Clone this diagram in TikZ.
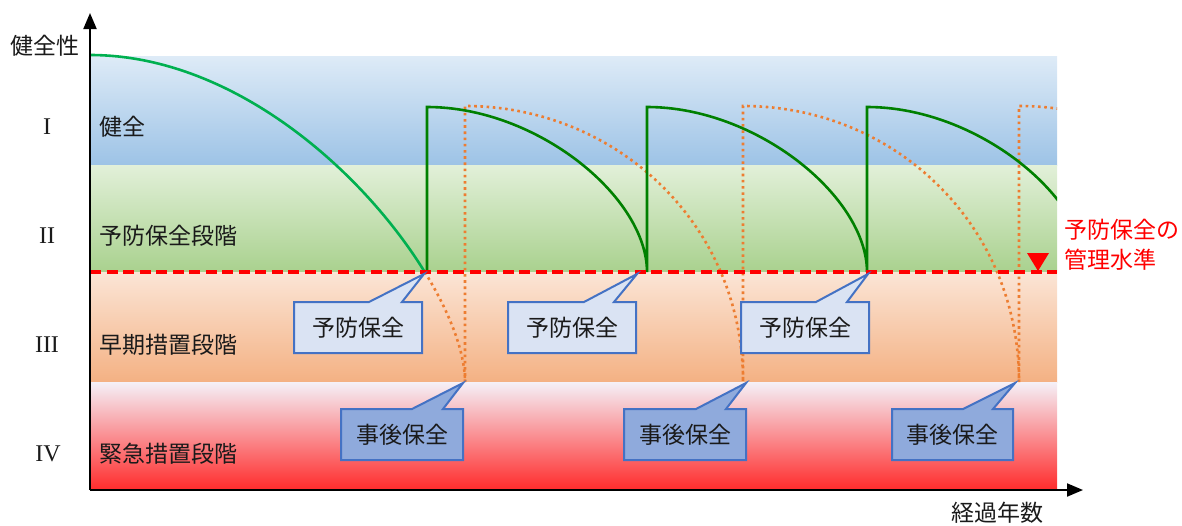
\documentclass[tikz,border=0pt]{standalone}
\usepackage{fontspec}
\setmainfont{Noto Sans CJK JP}
\newfontfamily\romfont{Liberation Serif}
\usetikzlibrary{arrows.meta}
\definecolor{blueT}{HTML}{DEEBF7}
\definecolor{blueB}{HTML}{9DC3E6}
\definecolor{greenT}{HTML}{E2F0D9}
\definecolor{greenB}{HTML}{A9D18E}
\definecolor{orT}{HTML}{FBE5D6}
\definecolor{orB}{HTML}{F4B183}
\definecolor{redT}{HTML}{F5F1F8}
\definecolor{redM}{HTML}{F6BEC6}
\definecolor{redB}{HTML}{FF2B2B}
\definecolor{ltgreen}{HTML}{00B050}
\definecolor{dkgreen}{HTML}{008000}
\definecolor{orline}{HTML}{ED7D31}
\definecolor{cobord}{HTML}{4472C4}
\definecolor{pbfill}{HTML}{DAE3F3}
\definecolor{jgfill}{HTML}{8FAADC}
\definecolor{txt}{HTML}{1A1A1A}
\begin{document}
\begin{tikzpicture}[x=1pt,y=-1pt,
  jpfont/.style={font=\fontsize{23}{28}\selectfont, text=txt, inner sep=0pt},
  romlbl/.style={font=\romfont\fontsize{24}{28}\selectfont, text=txt, inner sep=0pt},
  bandlbl/.style={jpfont, anchor=west},
  axisline/.style={line width=2pt, black, -{Triangle[length=16pt,width=13pt]}},
  lgcurve/.style={line width=2.6pt, ltgreen},
  dgcurve/.style={line width=2.6pt, dkgreen, line join=miter},
  ordot/.style={line width=2.6pt, orline, dash pattern=on 2.6pt off 3.6pt},
  reddash/.style={line width=3.5pt, red, dash pattern=on 11pt off 5.5pt},
  pbbox/.style={draw=cobord, fill=pbfill, line width=2pt, line join=miter},
  jgbox/.style={draw=cobord, fill=jgfill, line width=2pt, line join=miter}]
\useasboundingbox (0,0) rectangle (1182,525);
% bands
\shade[top color=blueT, bottom color=blueB] (90,56) rectangle (1057,165);
\shade[top color=greenT, bottom color=greenB] (90,165) rectangle (1057,272);
\shade[top color=orT, bottom color=orB] (90,272) rectangle (1057,382);
\shade[top color=redT, middle color=redM, bottom color=redB] (90,382) rectangle (1057,490);
% curves
\begin{scope}
  \clip (90,272) rectangle (1057,395);
  \draw[ordot] (90,55) .. controls (290,55) and (465,282) .. (465,382);
\end{scope}
\begin{scope}
  \clip (90,0) rectangle (1057,500);
  \draw[ordot] (465,382) -- (465,106) .. controls (615,106) and (743,223) .. (743,382)
     -- (743,106) .. controls (893,106) and (1019,223) .. (1019,382)
     -- (1019,106) .. controls (1169,106) and (1295,223) .. (1295,382);
  \draw[dgcurve] (427,272) -- (427,107) .. controls (537,107) and (647,197) .. (647,272)
     -- (647,107) .. controls (757,107) and (867,197) .. (867,272)
     -- (867,107) .. controls (977,107) and (1087,197) .. (1087,272);
\end{scope}
\begin{scope}
  \clip (80,0) rectangle (1057,272);
  \draw[lgcurve] (90,55) .. controls (290,55) and (465,282) .. (465,382);
\end{scope}
% management level
\coordinate (lvlL) at (90,272);
\coordinate (lvlR) at (1057,272);
\draw[reddash] (lvlL) -- (lvlR);
\fill[red] (1027,253) -- (1049,253) -- (1038,271) -- cycle;
\node[jpfont, text=red, anchor=west, align=left, font=\fontsize{23}{30}\selectfont] (lvl) at (1064,245) {予防保全の\\管理水準};
% callouts: preventive
\draw[pbbox] (294,302) -- (369,302) -- (424,274) -- (402,302) -- (422,302) -- (422,353) -- (294,353) -- cycle;
\node[jpfont] (pb1) at (358,327.5) {予防保全};
\draw[pbbox] (508,302) -- (584,302) -- (637,274) -- (614,302) -- (636,302) -- (636,353) -- (508,353) -- cycle;
\node[jpfont] (pb2) at (572,327.5) {予防保全};
\draw[pbbox] (741,302) -- (816,302) -- (868,274) -- (847,302) -- (869,302) -- (869,353) -- (741,353) -- cycle;
\node[jpfont] (pb3) at (805,327.5) {予防保全};
% callouts: corrective
\draw[jgbox] (341,409) -- (412,409) -- (463,383) -- (443,409) -- (463,409) -- (463,460) -- (341,460) -- cycle;
\node[jpfont] (jg1) at (402,435) {事後保全};
\draw[jgbox] (624,409) -- (696,409) -- (746,383) -- (726,409) -- (746,409) -- (746,460) -- (624,460) -- cycle;
\node[jpfont] (jg2) at (685,435) {事後保全};
\draw[jgbox] (892,409) -- (963,409) -- (1015,383) -- (993,409) -- (1013,409) -- (1013,460) -- (892,460) -- cycle;
\node[jpfont] (jg3) at (952.5,435) {事後保全};
% axes
\coordinate (O) at (90,490);
\coordinate (Ytop) at (90,13);
\coordinate (Xend) at (1083,490);
\draw[axisline] (O) -- (Ytop);
\draw[axisline] (O) -- (Xend);
\node[jpfont] (ylab) at (45,46) {健全性};
\node[jpfont] (xlab) at (997,513) {経過年数};
% band labels
\node[romlbl] (r1) at (47,127) {I};
\node[romlbl] (r2) at (47,236) {II};
\node[romlbl] (r3) at (47,345) {III};
\node[romlbl] (r4) at (48,454) {IV};
\node[bandlbl] (b1) at (99,127) {健全};
\node[bandlbl] (b2) at (99,236) {予防保全段階};
\node[bandlbl] (b3) at (99,345) {早期措置段階};
\node[bandlbl] (b4) at (99,454) {緊急措置段階};
\end{tikzpicture}
\end{document}
